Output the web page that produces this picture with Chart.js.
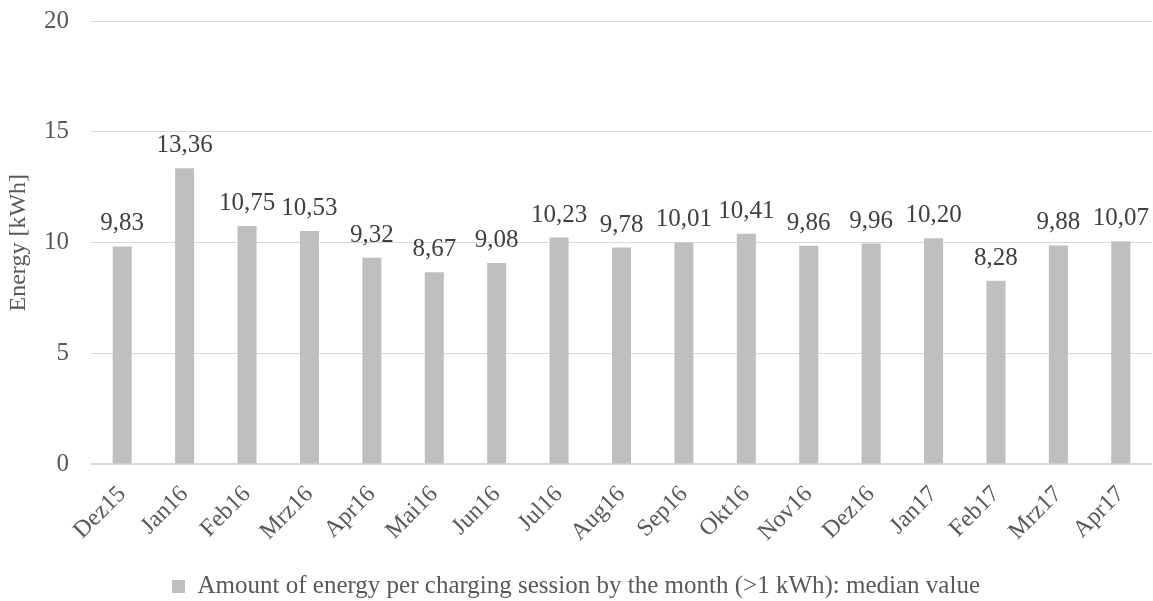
<!DOCTYPE html>
<html>
<head>
<meta charset="utf-8">
<script src="https://cdn.jsdelivr.net/npm/chart.js@4/dist/chart.umd.min.js"></script>
<style>
  html, body { margin: 0; padding: 0; background: #fff; }
  #wrap { width: 1153px; height: 601px; }
</style>
</head>
<body>
<div id="wrap"><canvas id="energy-chart" width="1153" height="601"></canvas></div>
<script>
const months = ["Dez15", "Jan16", "Feb16", "Mrz16", "Apr16", "Mai16", "Jun16", "Jul16", "Aug16",
  "Sep16", "Okt16", "Nov16", "Dez16", "Jan17", "Feb17", "Mrz17", "Apr17"];
const medianEnergy = [9.83, 13.36, 10.75, 10.53, 9.32, 8.67, 9.08, 10.23, 9.78,
  10.01, 10.41, 9.86, 9.96, 10.20, 8.28, 9.88, 10.07];
const seriesLabel = "Amount of energy per charging session by the month (>1 kWh): median value";

const serif = "'Liberation Serif', 'Times New Roman', serif";
const textGrey = "#595959";

// Excel-style value labels above each bar, with a decimal comma.
const barValueLabels = {
  id: "barValueLabels",
  afterDatasetsDraw(chart) {
    const { ctx } = chart;
    const meta = chart.getDatasetMeta(0);
    ctx.save();
    ctx.font = "25px " + serif;
    ctx.fillStyle = "#404040";
    ctx.textAlign = "center";
    ctx.textBaseline = "alphabetic";
    meta.data.forEach((bar, i) => {
      const text = medianEnergy[i].toFixed(2).replace(".", ",");
      ctx.fillText(text, bar.x, bar.y - 16);
    });
    ctx.restore();
  }
};

new Chart(document.getElementById("energy-chart"), {
  type: "bar",
  data: {
    labels: months,
    datasets: [{
      label: seriesLabel,
      data: medianEnergy,
      backgroundColor: "#BFBFBF",
      borderWidth: 0,
      barPercentage: 0.305,
      categoryPercentage: 1
    }]
  },
  options: {
    responsive: false,
    animation: false,
    layout: { padding: { left: 0, right: 1, top: 0, bottom: -8 } },
    plugins: {
      legend: {
        position: "bottom",
        labels: {
          boxWidth: 13,
          boxHeight: 13,
          color: textGrey,
          font: { family: serif, size: 25 },
          padding: 12
        }
      },
      tooltip: { enabled: false }
    },
    scales: {
      x: {
        grid: { display: false },
        border: { display: false },
        ticks: {
          color: textGrey,
          font: { family: serif, size: 24 },
          minRotation: 45,
          maxRotation: 45,
          padding: 8
        },
        // rotated labels should not push the plot area inwards
        afterFit: (scale) => {
          scale.paddingLeft = 0;
          scale.paddingRight = 0;
          scale.height += 7;
        }
      },
      y: {
        min: 0,
        max: 20,
        ticks: {
          stepSize: 5,
          color: textGrey,
          font: { family: serif, size: 25 },
          padding: 22
        },
        grid: {
          color: "#D9D9D9",
          lineWidth: (c) => (c.tick && c.tick.value === 0 ? 2 : 1),
          drawTicks: false
        },
        border: { display: false },
        title: {
          display: true,
          text: "Energy [kWh]",
          color: textGrey,
          font: { family: serif, size: 24 },
          padding: { top: 4, bottom: 4 }
        },
        afterFit: (scale) => {
          scale.width = 91;
          scale.paddingTop = 21;
          scale.paddingBottom = 0;
        }
      }
    }
  },
  plugins: [barValueLabels]
});
</script>
</body>
</html>
